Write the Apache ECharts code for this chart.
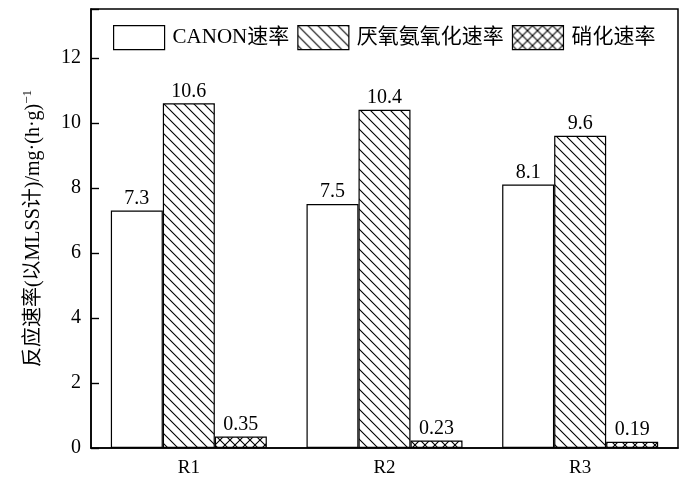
<!DOCTYPE html>
<html><head><meta charset="utf-8">
<script src="https://cdn.jsdelivr.net/npm/echarts@6/dist/echarts.min.js"></script>
<style>html,body{margin:0;padding:0;background:#fff}#c{width:700px;height:481px}</style>
</head><body><div id="c"></div>
<script>
const categories = ['R1', 'R2', 'R3'];
const seriesNames = ['CANON速率', '厌氧氨氧化速率', '硝化速率'];
const canonRate = [7.3, 7.5, 8.1];
const anammoxRate = [10.6, 10.4, 9.6];
const nitrifRate = [0.35, 0.23, 0.19];
const yTicks = [0, 2, 4, 6, 8, 10, 12];

const FONT = '"Liberation Serif", "Times New Roman", "Noto Sans CJK SC", serif';

function makePattern(type) {
  const s = 10;
  const c = document.createElement('canvas');
  c.width = s; c.height = s;
  const g = c.getContext('2d');
  g.fillStyle = '#fff'; g.fillRect(0, 0, s, s);
  g.strokeStyle = '#000'; g.lineWidth = 1.1;
  const back = () => {
    g.beginPath();
    g.moveTo(-1, -1); g.lineTo(s + 1, s + 1);
    g.moveTo(-1, s - 1); g.lineTo(1, s + 1);
    g.moveTo(s - 1, -1); g.lineTo(s + 1, 1);
    g.stroke();
  };
  const fwd = () => {
    g.beginPath();
    g.moveTo(-1, s + 1); g.lineTo(s + 1, -1);
    g.moveTo(-1, 1); g.lineTo(1, -1);
    g.moveTo(s - 1, s + 1); g.lineTo(s + 1, s - 1);
    g.stroke();
  };
  back();
  if (type === 'cross') fwd();
  return { image: c, repeat: 'repeat' };
}

const fills = ['#fff', makePattern('back'), makePattern('cross')];
const dataSets = [canonRate, anammoxRate, nitrifRate];

const chart = echarts.init(document.getElementById('c'), null, { renderer: 'canvas' });
chart.setOption({
  animation: false,
  backgroundColor: '#fff',
  textStyle: { fontFamily: FONT, color: '#000' },
  grid: { left: 91, right: 22, top: 9, bottom: 33, show: true, borderColor: '#000', borderWidth: 1.5, backgroundColor: 'transparent' },
  legend: {
    left: 113, top: 25, icon: 'rect', padding: 0,
    itemWidth: 51, itemHeight: 24, itemGap: 8,
    itemStyle: { borderColor: '#000', borderWidth: 1.2 },
    textStyle: { fontFamily: FONT, fontSize: 21, color: '#000', padding: [0, 0, 0, 3] },
    data: seriesNames
  },
  xAxis: {
    type: 'category', data: categories,
    axisLine: { lineStyle: { color: '#000', width: 1.5 } },
    axisTick: { show: false },
    axisLabel: { fontFamily: FONT, fontSize: 19, color: '#000', margin: 11 }
  },
  yAxis: {
    type: 'value', min: 0, max: 13.5, interval: 2,
    name: '{a|反应速率(以MLSS计)/mg·(h·g)}{s|−1}',
    nameLocation: 'middle', nameGap: 45,
    nameTextStyle: {
      rich: {
        a: { fontFamily: FONT, fontSize: 20, color: '#000' },
        s: { fontFamily: FONT, fontSize: 13, color: '#000', padding: [0, 0, 12, 0] }
      }
    },
    splitLine: { show: false },
    axisLine: { show: true, lineStyle: { color: '#000', width: 1.5 } },
    axisTick: { show: true, inside: true, length: 8, lineStyle: { color: '#000', width: 1.4 } },
    axisLabel: {
      fontFamily: FONT, fontSize: 20, color: '#000', margin: 10,
      formatter: v => (yTicks.indexOf(v) >= 0 ? String(v) : '')
    }
  },
  series: seriesNames.map((name, i) => ({
    name, type: 'bar', data: dataSets[i],
    barWidth: 52, barGap: '0%',
    itemStyle: { color: fills[i], borderColor: '#000', borderWidth: 1.2 },
    label: { show: true, position: 'top', distance: 2, fontFamily: FONT, fontSize: 20, color: '#000',
      formatter: p => String(dataSets[i][p.dataIndex]) }
  }))
});
</script></body></html>
